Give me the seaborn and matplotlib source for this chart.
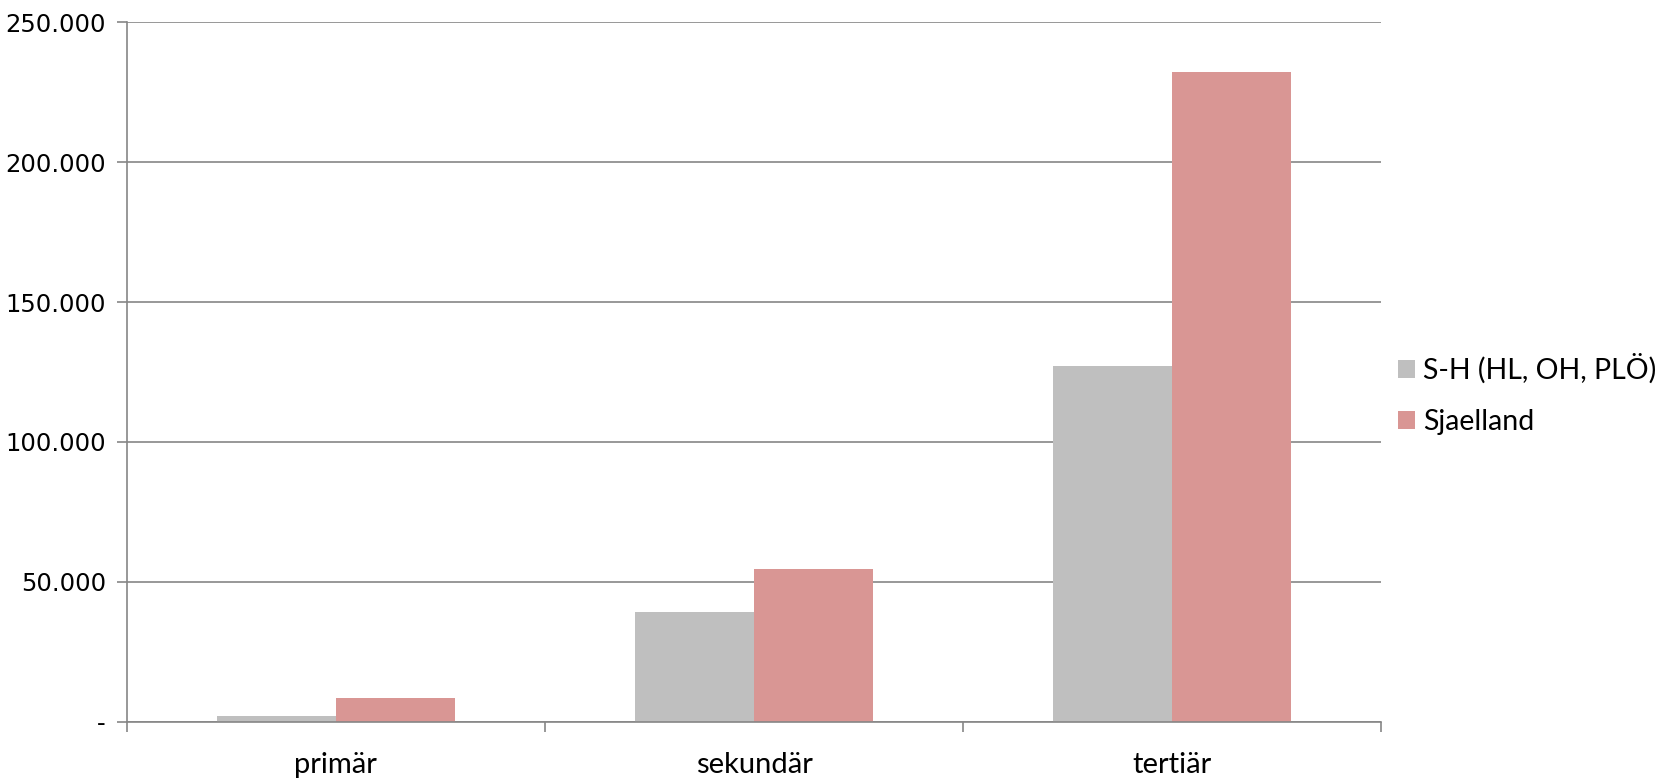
import numpy as np
import pandas as pd
import seaborn as sns
import matplotlib.pyplot as plt
from matplotlib.ticker import FuncFormatter, FixedLocator

# values
sectors = ['primär', 'sekundär', 'tertiär']
series = ['S-H (HL, OH, PLÖ)', 'Sjaelland']
sh_values = [1900, 39200, 127300]
sj_values = [8400, 54400, 232200]
y_ticks = [0, 50000, 100000, 150000, 200000, 250000]

df = pd.DataFrame({
	'sector': sectors * 2,
	'series': [series[0]] * 3 + [series[1]] * 3,
	'value': sh_values + sj_values,
})

sns.set_style('white')
plt.rcParams['font.family'] = ['Lato', 'DejaVu Sans']
plt.rcParams['text.color'] = 'black'
plt.rcParams['xtick.color'] = 'black'
plt.rcParams['ytick.color'] = 'black'

fig = plt.figure(figsize=(16.71, 7.78), dpi=100)
ax = fig.add_axes([0.0759, 0.0726, 0.7506, 0.8986])

palette = {series[0]: '#BFBFBF', series[1]: '#D99694'}
sns.barplot(data=df, x='sector', y='value', hue='series', palette=palette,
            width=0.571, gap=0, saturation=1, linewidth=0, ax=ax, legend=True)

ax.set_ylim(0, 250000)
ax.set_xlim(-0.5, 2.5)
ax.set_yticks(y_ticks)
ax.yaxis.set_major_formatter(FuncFormatter(
	lambda v, p: '-' if v == 0 else f'{int(v):,}'.replace(',', '.')))
ax.grid(axis='y', color='#868686', linewidth=1.2)
ax.set_axisbelow(True)

for side in ['top', 'right']:
	ax.spines[side].set_visible(False)
for side in ['left', 'bottom']:
	ax.spines[side].set_color('#868686')
	ax.spines[side].set_linewidth(1.2)

# ticks between categories
ax.xaxis.set_minor_locator(FixedLocator([-0.5, 0.5, 1.5, 2.5]))
ax.tick_params(axis='x', which='major', length=0, pad=22, labelsize=21, labelcolor='black')
ax.tick_params(axis='x', which='minor', length=7, width=1.2, color='#868686', direction='out', bottom=True)
ax.tick_params(axis='y', length=7, width=1.2, color='#868686', direction='out', left=True,
               labelsize=17.5, labelcolor='black', pad=8)
for lbl in ax.get_yticklabels():
	lbl.set_fontfamily('DejaVu Sans')

ax.set_xlabel('')
ax.set_ylabel('')

handles, labels = ax.get_legend_handles_labels()
ax.get_legend().remove()
fig.legend(handles, labels, loc='center left', bbox_to_anchor=(0.821, 0.493),
           frameon=False, fontsize=20.5, handlelength=0.6, handleheight=0.6,
           handletextpad=0.3, labelspacing=0.9)

fig.savefig('out.png', dpi=100)
